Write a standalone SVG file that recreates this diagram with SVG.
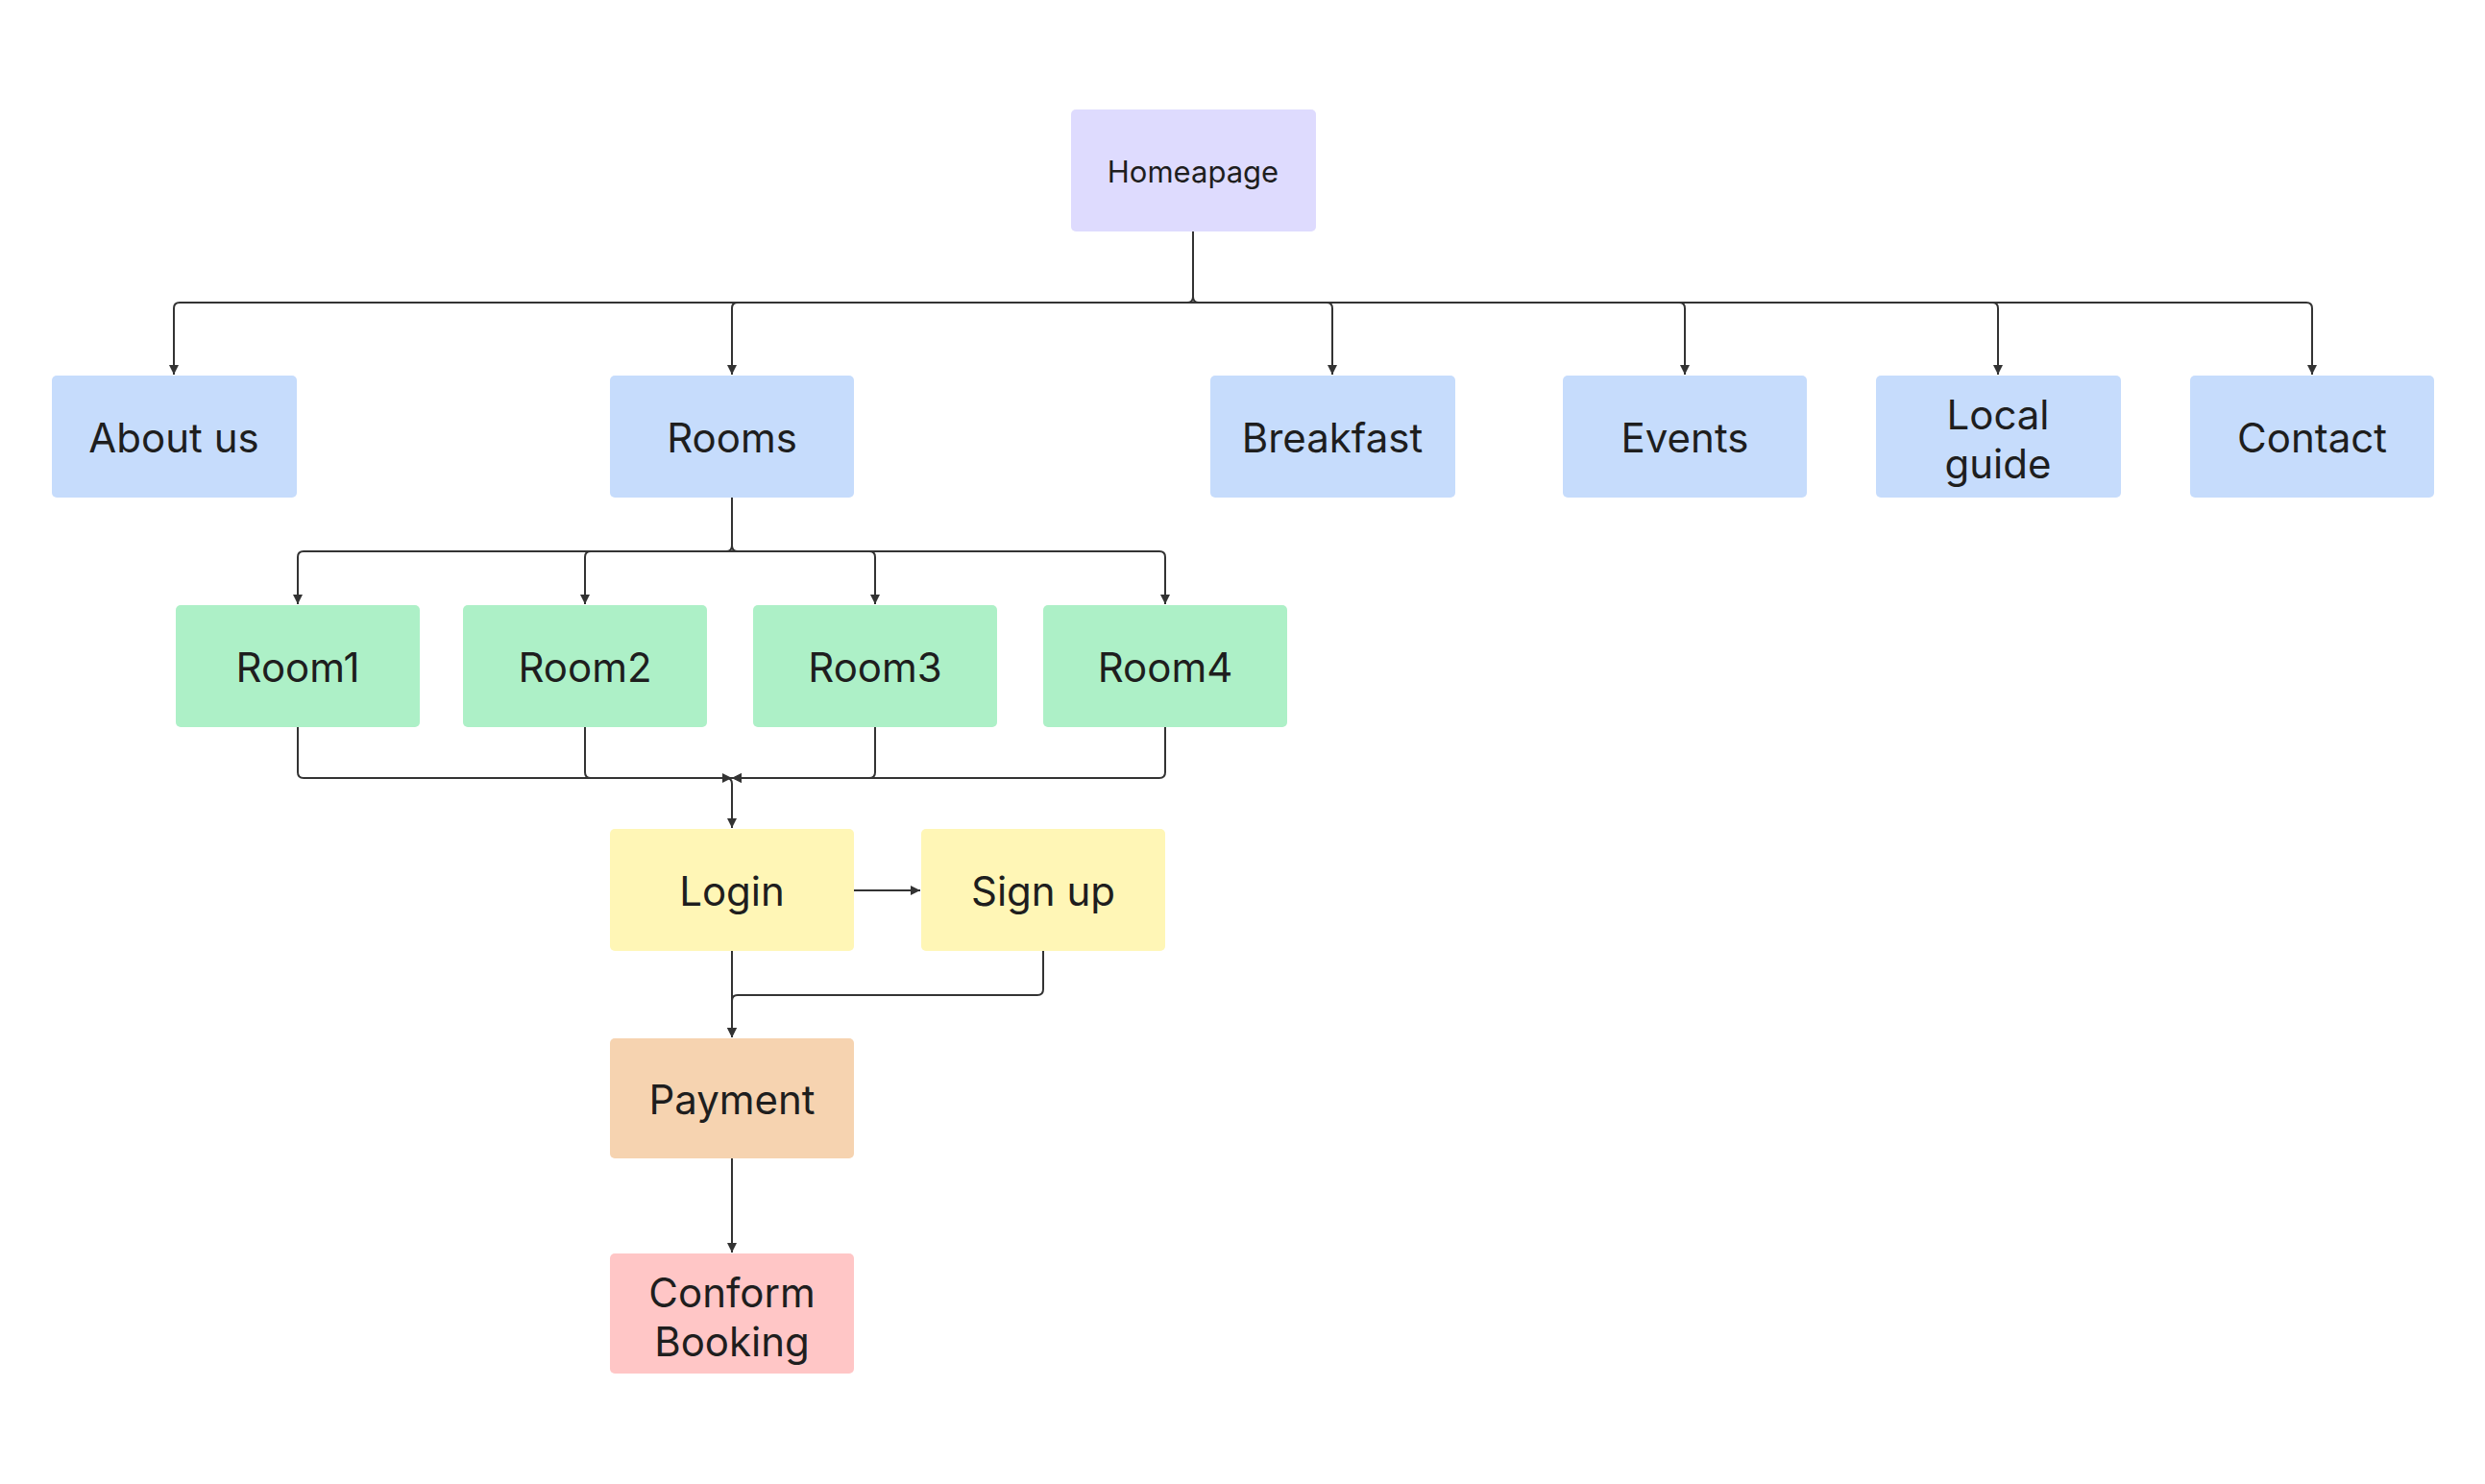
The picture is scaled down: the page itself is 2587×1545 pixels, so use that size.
<svg xmlns="http://www.w3.org/2000/svg" width="2587" height="1545" viewBox="0 0 2587 1545">
<style>
.n{stroke:none}
.t{font-family:"Inter","Liberation Sans",sans-serif;font-size:42px;fill:#1e1e1e;text-anchor:middle;dominant-baseline:central}
.c{fill:none;stroke:#333;stroke-width:2}
</style>
<defs><marker id="a" markerWidth="12" markerHeight="12" refX="10" refY="6" orient="auto" markerUnits="userSpaceOnUse"><path d="M0,1 L10,6 L0,11 Z" fill="#333"/></marker></defs>
<rect width="2587" height="1545" fill="#fff"/>
<g id="connectors" class="c" marker-end="url(#a)">
<path d="M1242,241 V309 Q1242,315 1236,315 H187 Q181,315 181,321 V390"/>
<path d="M1242,315 H768 Q762,315 762,321 V390"/>
<path d="M1242,309 Q1242,315 1248,315 H1381 Q1387,315 1387,321 V390"/>
<path d="M1242,315 H1748 Q1754,315 1754,321 V390"/>
<path d="M1242,315 H2074 Q2080,315 2080,321 V390"/>
<path d="M1242,315 H2401 Q2407,315 2407,321 V390"/>
<path d="M762,518 V568 Q762,574 756,574 H316 Q310,574 310,580 V629"/>
<path d="M762,574 H615 Q609,574 609,580 V629"/>
<path d="M762,568 Q762,574 768,574 H905 Q911,574 911,580 V629"/>
<path d="M762,574 H1207 Q1213,574 1213,580 V629"/>
<path d="M310,757 V804 Q310,810 316,810 H756 Q762,810 762,816 V862"/>
<path d="M609,757 V804 Q609,810 615,810 H762"/>
<path d="M911,757 V804 Q911,810 905,810 H762"/>
<path d="M1213,757 V804 Q1213,810 1207,810 H762"/>
<path d="M889,927 H958"/>
<path d="M762,990 V1080"/>
<path d="M1086,990 V1030 Q1086,1036 1080,1036 H768 Q762,1036 762,1042 V1080"/>
<path d="M762,1206 V1304"/>
</g>
<g id="homepage"><rect class="n" x="1115" y="114" width="255" height="127" rx="5" fill="#dedbfe"/><text class="t" x="1242" y="178" style="font-size:31px">Homeapage</text></g>
<g id="about"><rect x="54" y="391" width="255" height="127" rx="5" fill="#c6dcfc"/><text class="t" x="181" y="455">About us</text></g>
<g id="rooms"><rect x="635" y="391" width="254" height="127" rx="5" fill="#c6dcfc"/><text class="t" x="762" y="455">Rooms</text></g>
<g id="breakfast"><rect x="1260" y="391" width="255" height="127" rx="5" fill="#c6dcfc"/><text class="t" x="1387" y="455">Breakfast</text></g>
<g id="events"><rect x="1627" y="391" width="254" height="127" rx="5" fill="#c6dcfc"/><text class="t" x="1754" y="455">Events</text></g>
<g id="local"><rect x="1953" y="391" width="255" height="127" rx="5" fill="#c6dcfc"/><text class="t" x="2080" y="431">Local</text><text class="t" x="2080" y="482">guide</text></g>
<g id="contact"><rect x="2280" y="391" width="254" height="127" rx="5" fill="#c6dcfc"/><text class="t" x="2407" y="455">Contact</text></g>
<g id="room1"><rect x="183" y="630" width="254" height="127" rx="5" fill="#adf0c7"/><text class="t" x="310" y="694">Room1</text></g>
<g id="room2"><rect x="482" y="630" width="254" height="127" rx="5" fill="#adf0c7"/><text class="t" x="609" y="694">Room2</text></g>
<g id="room3"><rect x="784" y="630" width="254" height="127" rx="5" fill="#adf0c7"/><text class="t" x="911" y="694">Room3</text></g>
<g id="room4"><rect x="1086" y="630" width="254" height="127" rx="5" fill="#adf0c7"/><text class="t" x="1213" y="694">Room4</text></g>
<g id="login"><rect x="635" y="863" width="254" height="127" rx="5" fill="#fff6b6"/><text class="t" x="762" y="927">Login</text></g>
<g id="signup"><rect x="959" y="863" width="254" height="127" rx="5" fill="#fff6b6"/><text class="t" x="1086" y="927">Sign up</text></g>
<g id="payment"><rect x="635" y="1081" width="254" height="125" rx="5" fill="#f6d3b0"/><text class="t" x="762" y="1144">Payment</text></g>
<g id="conform"><rect x="635" y="1305" width="254" height="125" rx="5" fill="#ffc6c6"/><text class="t" x="762" y="1345">Conform</text><text class="t" x="762" y="1396">Booking</text></g>
</svg>
